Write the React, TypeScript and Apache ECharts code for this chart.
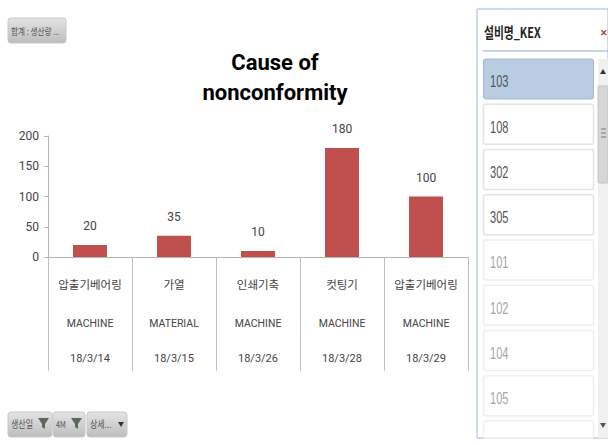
import React, { useEffect, useRef } from "react";
import * as echarts from "echarts";

const causes = ["압출기베어링", "가열", "인쇄기축", "컷팅기", "압출기베어링"];
const fourM = ["MACHINE", "MATERIAL", "MACHINE", "MACHINE", "MACHINE"];
const dates = ["18/3/14", "18/3/15", "18/3/26", "18/3/28", "18/3/29"];
const values = [20, 35, 10, 180, 100];
const activeSlicer = ["103", "108", "302", "305"];
const dimSlicer = ["101", "102", "104", "105", "106"];

const KR = '"Noto Sans CJK KR", sans-serif';
const NARROW = 'Roboto, "Liberation Sans", sans-serif';
const btnFill = new echarts.graphic.LinearGradient(0, 0, 0, 1, [
  { offset: 0, color: "#e4e4e4" },
  { offset: 1, color: "#bdbdbd" },
]);

function button(x: number, y: number, w: number, h: number, label: string, fs = 10, sx = 0.8) {
  return [
    { type: "rect", shape: { x, y, width: w, height: h, r: 3 }, style: { fill: btnFill, stroke: "#c8c8c8", lineWidth: 1 } },
    { type: "text", x: x + 3, y: y + h / 2, scaleX: sx, style: { text: label, font: `${fs}px ${KR}`, fill: "#555", verticalAlign: "middle", textAlign: "left" } },
  ];
}
function funnel(x: number, y: number) {
  return { type: "polygon", shape: { points: [[x, y], [x + 11, y], [x + 7, y + 6], [x + 7, y + 11], [x + 4, y + 9], [x + 4, y + 6]] }, style: { fill: "#5a6a5a" } };
}
function arrow(x: number, y: number, up: boolean, c = "#333") {
  return { type: "polygon", shape: { points: up ? [[x - 3, y + 3], [x + 3, y + 3], [x, y - 2]] : [[x - 3, y - 2], [x + 3, y - 2], [x, y + 3]] }, style: { fill: c } };
}

function slicer() {
  const els: any[] = [
    { type: "rect", shape: { x: 477, y: 9, width: 131, height: 429 }, style: { fill: "#fff", stroke: "#9db8d8", lineWidth: 1 } },
    { type: "text", x: 484, y: 32, scaleX: 0.72, style: { text: "설비명_KEX", font: `bold 15px ${KR}`, fill: "#222", verticalAlign: "middle" } },
    { type: "line", shape: { x1: 483, y1: 51, x2: 608, y2: 51 }, style: { stroke: "#8fabd0", lineWidth: 1 } },
    { type: "text", x: 600, y: 32, style: { text: "✕", font: `bold 9px ${KR}`, fill: "#c0392b", verticalAlign: "middle" } },
    { type: "rect", shape: { x: 598, y: 59, width: 10, height: 379 }, style: { fill: "#f0f0f0" } },
    { type: "rect", shape: { x: 598, y: 86, width: 10, height: 97, r: 1 }, style: { fill: "#d6d6d6", stroke: "#c4c4c4", lineWidth: 1 } },
    arrow(603, 71, true),
    arrow(603, 425, false, "#555"),
    { type: "line", shape: { x1: 601, y1: 129, x2: 606, y2: 129 }, style: { stroke: "#777" } },
    { type: "line", shape: { x1: 601, y1: 133, x2: 606, y2: 133 }, style: { stroke: "#777" } },
    { type: "line", shape: { x1: 601, y1: 137, x2: 606, y2: 137 }, style: { stroke: "#777" } },
  ];
  const all = [...activeSlicer, ...dimSlicer];
  all.forEach((label, i) => {
    const y = 59 + i * 45.25;
    const selected = i === 0;
    const dim = i >= activeSlicer.length;
    const last = i === all.length - 1;
    const height = last ? 438 - y : 40;
    els.push({
      type: "rect",
      shape: { x: 483.5, y, width: 110, height, r: 2 },
      style: { fill: selected ? "#b8cce4" : "#fff", stroke: selected ? "#a9b8ca" : dim ? "#f0f0f0" : "#e4e4e4", lineWidth: selected ? 1 : 1.5 },
    });
    if (!last) {
      els.push({ type: "text", x: 490, y: y + 22.5, scaleX: 0.65, style: { text: label, font: `17px "Liberation Sans", sans-serif`, fill: dim ? "#a6a6a6" : "#555", verticalAlign: "middle" } });
    }
  });
  return els;
}

export default function App() {
  const ref = useRef<HTMLDivElement>(null);
  useEffect(() => {
    document.body.style.margin = "0";
    const chart = echarts.init(ref.current!, null, { renderer: "svg" });
    chart.setOption({
      animation: false,
      backgroundColor: "#fff",
      title: {
        text: "Cause of\nnonconformity",
        left: 270,
        top: 42,
        textAlign: "center",
        textStyle: { fontFamily: "Roboto", fontSize: 22, fontWeight: "bold", color: "#000", lineHeight: 30 },
      },
      grid: { left: 48, right: 140, top: 136, bottom: 188 },
      xAxis: {
        type: "category",
        data: causes.map((c, i) => `${c}|${fourM[i]}|${dates[i]}`),
        axisLine: { lineStyle: { color: "#b5b5b5", width: 1 } },
        axisTick: { show: true, length: 114, lineStyle: { color: "#c0c0c0", width: 1 } },
        axisLabel: {
          interval: 0,
          margin: 8,
          formatter: (v: string) => {
            const [a, b, c] = v.split("|");
            return `{a|${a}}\n{b|${b}}\n{c|${c}}`;
          },
          rich: {
            a: { fontFamily: KR, fontSize: 11.5, color: "#444", lineHeight: 38 },
            b: { fontFamily: NARROW, fontSize: 10.5, color: "#444", lineHeight: 40 },
            c: { fontFamily: NARROW, fontSize: 11, color: "#444", lineHeight: 30 },
          },
        },
      },
      yAxis: {
        type: "value",
        min: 0,
        max: 200,
        interval: 50,
        axisLine: { show: true, lineStyle: { color: "#b5b5b5" } },
        axisTick: { show: true, length: 4, lineStyle: { color: "#b5b5b5" } },
        splitLine: { show: false },
        axisLabel: { fontFamily: NARROW, fontSize: 12, color: "#444", margin: 9 },
      },
      series: [
        {
          type: "bar",
          data: values,
          barWidth: 34,
          itemStyle: { color: "#c0504d" },
          label: { show: true, position: "top", distance: 13, fontFamily: NARROW, fontSize: 12, color: "#444" },
        },
      ],
      graphic: [
        ...button(8, 18, 58, 25, "합계 : 생산량 ...", 9.5, 0.8),
        ...button(8, 412, 44, 25, "생산일", 10, 0.8),
        funnel(38, 418),
        ...button(53, 412, 32, 25, "4M", 9, 0.8),
        funnel(71, 418),
        ...button(87, 412, 40, 25, "상세...", 10, 0.8),
        arrow(121, 424, false),
        ...slicer(),
      ],
    });
    return () => chart.dispose();
  }, []);
  return <div ref={ref} style={{ position: "fixed", left: 0, top: 0, width: 608, height: 445 }} />;
}
